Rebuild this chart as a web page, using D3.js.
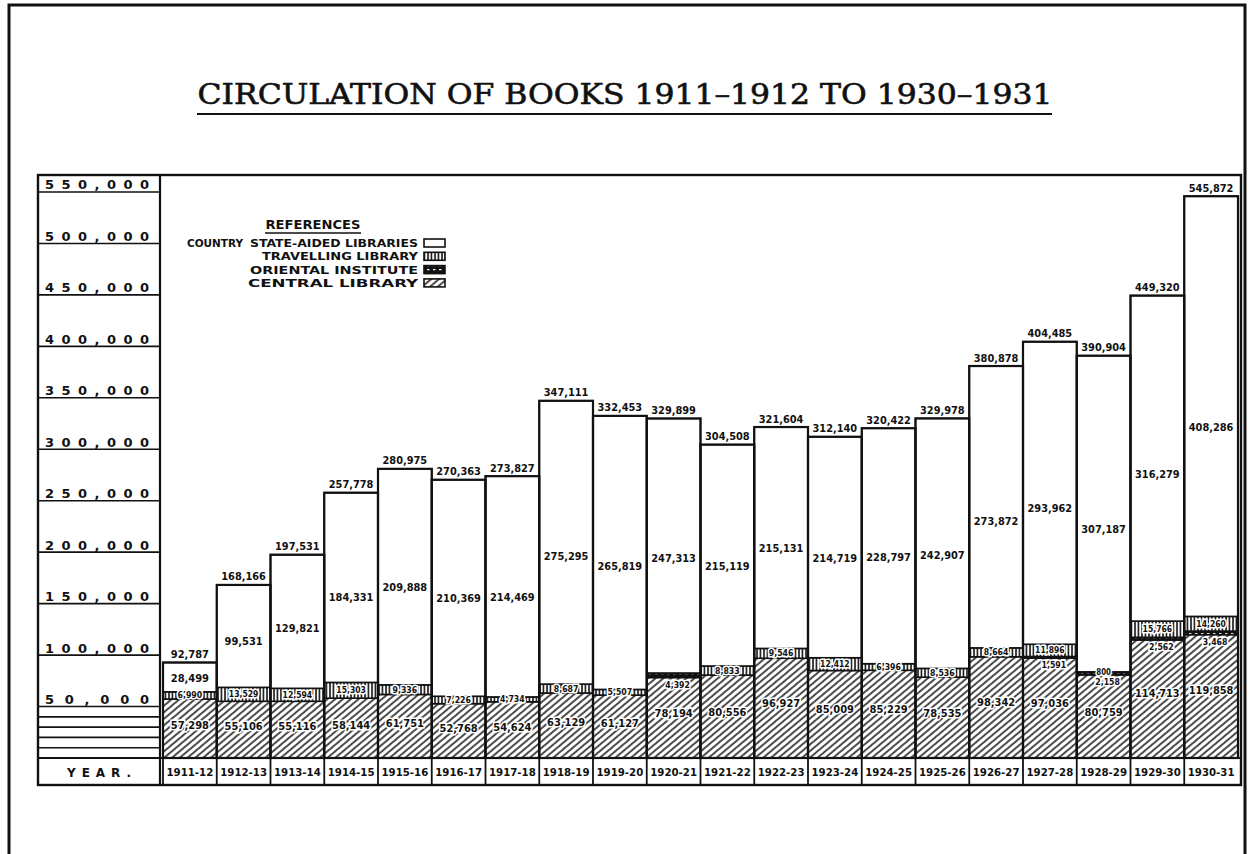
<!DOCTYPE html>
<html>
<head>
<meta charset="utf-8">
<script src="https://cdn.jsdelivr.net/npm/d3@7"></script>
<style>
  body { margin: 0; background: #fff; }
  svg { display: block; }
</style>
</head>
<body>
<svg id="chart" width="1249" height="854"></svg>
<script>
// Circulation of books, 1911-12 to 1930-31
const years = ["1911-12","1912-13","1913-14","1914-15","1915-16","1916-17","1917-18","1918-19","1919-20","1920-21",
               "1921-22","1922-23","1923-24","1924-25","1925-26","1926-27","1927-28","1928-29","1929-30","1930-31"];
const stateAided = [28499, 99531, 129821, 184331, 209888, 210369, 214469, 275295, 265819, 247313,
                    215119, 215131, 214719, 228797, 242907, 273872, 293962, 307187, 316279, 408286];
const travelling = [6990, 13529, 12594, 15303, 9336, 7226, 4734, 8687, 5507, 0,
                    8833, 9546, 12412, 6396, 8536, 8664, 11896, 800, 15766, 14260];
const oriental   = [0, 0, 0, 0, 0, 0, 0, 0, 0, 4392,
                    0, 0, 0, 0, 0, 0, 1591, 2158, 2562, 3468];
const central    = [57298, 55106, 55116, 58144, 61751, 52768, 54624, 63129, 61127, 78194,
                    80556, 96927, 85009, 85229, 78535, 98342, 97036, 80759, 114713, 119858];
const totals     = [92787, 168166, 197531, 257778, 280975, 270363, 273827, 347111, 332453, 329899,
                    304508, 321604, 312140, 320422, 329978, 380878, 404485, 390904, 449320, 545872];
const yTicks = [50000, 100000, 150000, 200000, 250000, 300000, 350000, 400000, 450000, 500000, 550000];
const minorRules = [10000, 20000, 30000, 40000];
const legendItems = [
  { key: "state", label: "STATE-AIDED LIBRARIES", width: 168 },
  { key: "travelling", label: "TRAVELLING LIBRARY", width: 156 },
  { key: "oriental", label: "ORIENTAL INSTITUTE", width: 168 },
  { key: "central", label: "CENTRAL LIBRARY", width: 170 }
];

const svg = d3.select("#chart");
const INK = "#111";
const LABEL_FONT = "'DejaVu Sans Condensed','Liberation Sans Narrow','DejaVu Sans',sans-serif";

// Frame geometry
const frame = { left: 38, right: 1241, top: 175, bottom: 785, colRight: 160, yearTop: 758 };

const x = d3.scaleBand().domain(years).range([163, 1238]).padding(0);
const y = d3.scaleLinear().domain([0, 566500]).range([frame.yearTop, frame.top]);

// Fill patterns for each library
const defs = svg.append("defs");
const hatch = defs.append("pattern").attr("id", "p-central")
  .attr("patternUnits", "userSpaceOnUse").attr("width", 5).attr("height", 5)
  .attr("patternTransform", "rotate(50)");
hatch.append("rect").attr("width", 5).attr("height", 5).attr("fill", "#fff");
hatch.append("line").attr("x1", 1).attr("x2", 1).attr("y1", 0).attr("y2", 5)
  .attr("stroke", INK).attr("stroke-width", 1.5);

const vert = defs.append("pattern").attr("id", "p-travelling")
  .attr("patternUnits", "userSpaceOnUse").attr("width", 3.5).attr("height", 4);
vert.append("rect").attr("width", 3.5).attr("height", 4).attr("fill", "#fff");
vert.append("line").attr("x1", 1).attr("x2", 1).attr("y1", 0).attr("y2", 4)
  .attr("stroke", INK).attr("stroke-width", 1.6);

const orient = defs.append("pattern").attr("id", "p-oriental")
  .attr("patternUnits", "userSpaceOnUse").attr("width", 6).attr("height", 4);
orient.append("rect").attr("width", 6).attr("height", 4).attr("fill", INK);
orient.append("rect").attr("x", 1).attr("y", 1).attr("width", 2.5).attr("height", 1.2).attr("fill", "#fff");

const fills = { state: "#fff", travelling: "url(#p-travelling)", oriental: "url(#p-oriental)", central: "url(#p-central)" };

// Page border
svg.append("path")
  .attr("d", "M9,854 L9,5 L1245,5 L1245,854")
  .attr("fill", "none").attr("stroke", INK).attr("stroke-width", 3);

// Title
svg.append("text")
  .attr("x", 625).attr("y", 104)
  .attr("text-anchor", "middle")
  .attr("font-family", "'DejaVu Serif','Liberation Serif',serif")
  .attr("font-size", 27)
  .attr("textLength", 855).attr("lengthAdjust", "spacingAndGlyphs")
  .attr("fill", INK).attr("stroke", INK).attr("stroke-width", 0.6)
  .text("CIRCULATION OF BOOKS 1911–1912 TO 1930–1931");
svg.append("line").attr("x1", 197).attr("x2", 1052).attr("y1", 114).attr("y2", 114)
  .attr("stroke", INK).attr("stroke-width", 2);

// Stacked data
const rows = years.map((yr, i) => ({
  year: yr, central: central[i], oriental: oriental[i], travelling: travelling[i], state: stateAided[i], total: totals[i]
}));
const keys = ["central", "oriental", "travelling", "state"];
const series = d3.stack().keys(keys)(rows);

const gBars = svg.append("g");
series.forEach(s => {
  gBars.selectAll(null).data(s.filter(d => d[1] > d[0])).join("rect")
    .attr("x", d => x(d.data.year))
    .attr("width", x.bandwidth())
    .attr("y", d => y(d[1]))
    .attr("height", d => y(d[0]) - y(d[1]))
    .attr("fill", fills[s.key])
    .attr("stroke", INK).attr("stroke-width", 1.6);
});

// Bar outlines
gBars.selectAll(".outline").data(rows).join("rect")
  .attr("class", "outline")
  .attr("x", d => x(d.year)).attr("width", x.bandwidth())
  .attr("y", d => y(d.total)).attr("height", d => y(0) - y(d.total))
  .attr("fill", "none").attr("stroke", INK).attr("stroke-width", 2.2);

const fmt = d3.format(",");
function label(g, txt, cx, cy, size, halo) {
  const w = txt.length * size * 0.58;
  const t = g.append("text")
    .attr("x", cx).attr("y", cy)
    .attr("text-anchor", "middle").attr("dominant-baseline", "central")
    .attr("font-family", LABEL_FONT).attr("font-weight", "bold")
    .attr("font-size", size)
    .attr("textLength", w).attr("lengthAdjust", "spacingAndGlyphs")
    .attr("fill", INK).text(txt);
  if (halo) t.attr("stroke", "#fff").attr("stroke-width", 3).attr("paint-order", "stroke");
  return t;
}

const gLab = svg.append("g");
const stateS = series[3], travS = series[2], orS = series[1], cenS = series[0];
rows.forEach((d, i) => {
  const cx = x(d.year) + x.bandwidth() / 2;
  // total above bar
  label(gLab, fmt(d.total), cx, y(d.total) - 8, 11, false);
  // state-aided inside the white block
  const sTop = y(stateS[i][1]), sBot = y(stateS[i][0]);
  label(gLab, fmt(d.state), cx, sBot - 0.45 * (sBot - sTop), 11, false);
  // central library on the hatch
  const cTop = y(cenS[i][1]), cBot = y(cenS[i][0]);
  label(gLab, fmt(d.central), cx, cBot - 0.55 * (cBot - cTop), 11, true);
  // travelling library strip
  if (d.travelling > 0) {
    const tMid = (y(travS[i][1]) + y(travS[i][0])) / 2;
    label(gLab, fmt(d.travelling), cx, tMid, 8.5, true);
  }
  // oriental institute, written just under its strip
  if (d.oriental > 0) {
    label(gLab, fmt(d.oriental), cx + 4, y(orS[i][0]) + 7, 8.5, true);
  }
});

// Chart frame, value column and year row
const gFrame = svg.append("g").attr("fill", "none").attr("stroke", INK);
gFrame.append("rect")
  .attr("x", frame.left).attr("y", frame.top)
  .attr("width", frame.right - frame.left).attr("height", frame.bottom - frame.top)
  .attr("stroke-width", 2.4);
gFrame.append("line").attr("x1", frame.colRight).attr("x2", frame.colRight)
  .attr("y1", frame.top).attr("y2", frame.bottom).attr("stroke-width", 2.2);
gFrame.append("line").attr("x1", frame.left).attr("x2", frame.right)
  .attr("y1", frame.yearTop).attr("y2", frame.yearTop).attr("stroke-width", 2);
gFrame.selectAll(".ysep").data(years).join("line")
  .attr("x1", d => x(d)).attr("x2", d => x(d))
  .attr("y1", frame.yearTop).attr("y2", frame.bottom).attr("stroke-width", 1.8);

// Ruled value column
gFrame.selectAll(".rule").data(yTicks.concat(minorRules)).join("line")
  .attr("x1", frame.left).attr("x2", frame.colRight)
  .attr("y1", d => y(d)).attr("y2", d => y(d))
  .attr("stroke-width", 1.6);

svg.append("g").selectAll("text").data(yTicks).join("text")
  .attr("x", 45).attr("y", d => y(d) - 2.5)
  .attr("font-family", "'DejaVu Sans','Liberation Sans',sans-serif")
  .attr("font-weight", "bold").attr("font-size", 13)
  .attr("textLength", 104).attr("lengthAdjust", "spacing")
  .attr("fill", INK)
  .text(d => fmt(d));

// Year cells
svg.append("text")
  .attr("x", (frame.left + frame.colRight) / 2).attr("y", 777)
  .attr("text-anchor", "middle")
  .attr("font-family", "'DejaVu Sans','Liberation Sans',sans-serif")
  .attr("font-weight", "bold").attr("font-size", 12)
  .attr("textLength", 64).attr("lengthAdjust", "spacing")
  .attr("fill", INK).text("YEAR.");
svg.append("g").selectAll("text").data(years).join("text")
  .attr("x", d => x(d) + x.bandwidth() / 2).attr("y", 776)
  .attr("text-anchor", "middle")
  .attr("font-family", LABEL_FONT).attr("font-weight", "bold").attr("font-size", 10)
  .attr("textLength", x.bandwidth() - 7).attr("lengthAdjust", "spacingAndGlyphs")
  .attr("fill", INK).text(d => d);

// References
const gLeg = svg.append("g").attr("font-family", LABEL_FONT).attr("font-weight", "bold").attr("fill", INK);
gLeg.append("text").attr("x", 313).attr("y", 229).attr("text-anchor", "middle")
  .attr("font-size", 12).attr("textLength", 95).attr("lengthAdjust", "spacingAndGlyphs")
  .text("REFERENCES");
gLeg.append("line").attr("x1", 265).attr("x2", 361).attr("y1", 233).attr("y2", 233)
  .attr("stroke", INK).attr("stroke-width", 1.6);
gLeg.append("text").attr("x", 187).attr("y", 247).attr("font-size", 10.5)
  .attr("textLength", 56).attr("lengthAdjust", "spacingAndGlyphs").text("COUNTRY");
legendItems.forEach((it, i) => {
  const by = 247 + i * 13.3;
  gLeg.append("text").attr("x", 418).attr("y", by).attr("text-anchor", "end")
    .attr("font-size", 10.5).attr("textLength", it.width).attr("lengthAdjust", "spacingAndGlyphs")
    .text(it.label);
  gLeg.append("rect").attr("x", 424).attr("y", by - 8).attr("width", 21).attr("height", 8)
    .attr("fill", fills[it.key]).attr("stroke", INK).attr("stroke-width", 1.6);
});
</script>
</body>
</html>
